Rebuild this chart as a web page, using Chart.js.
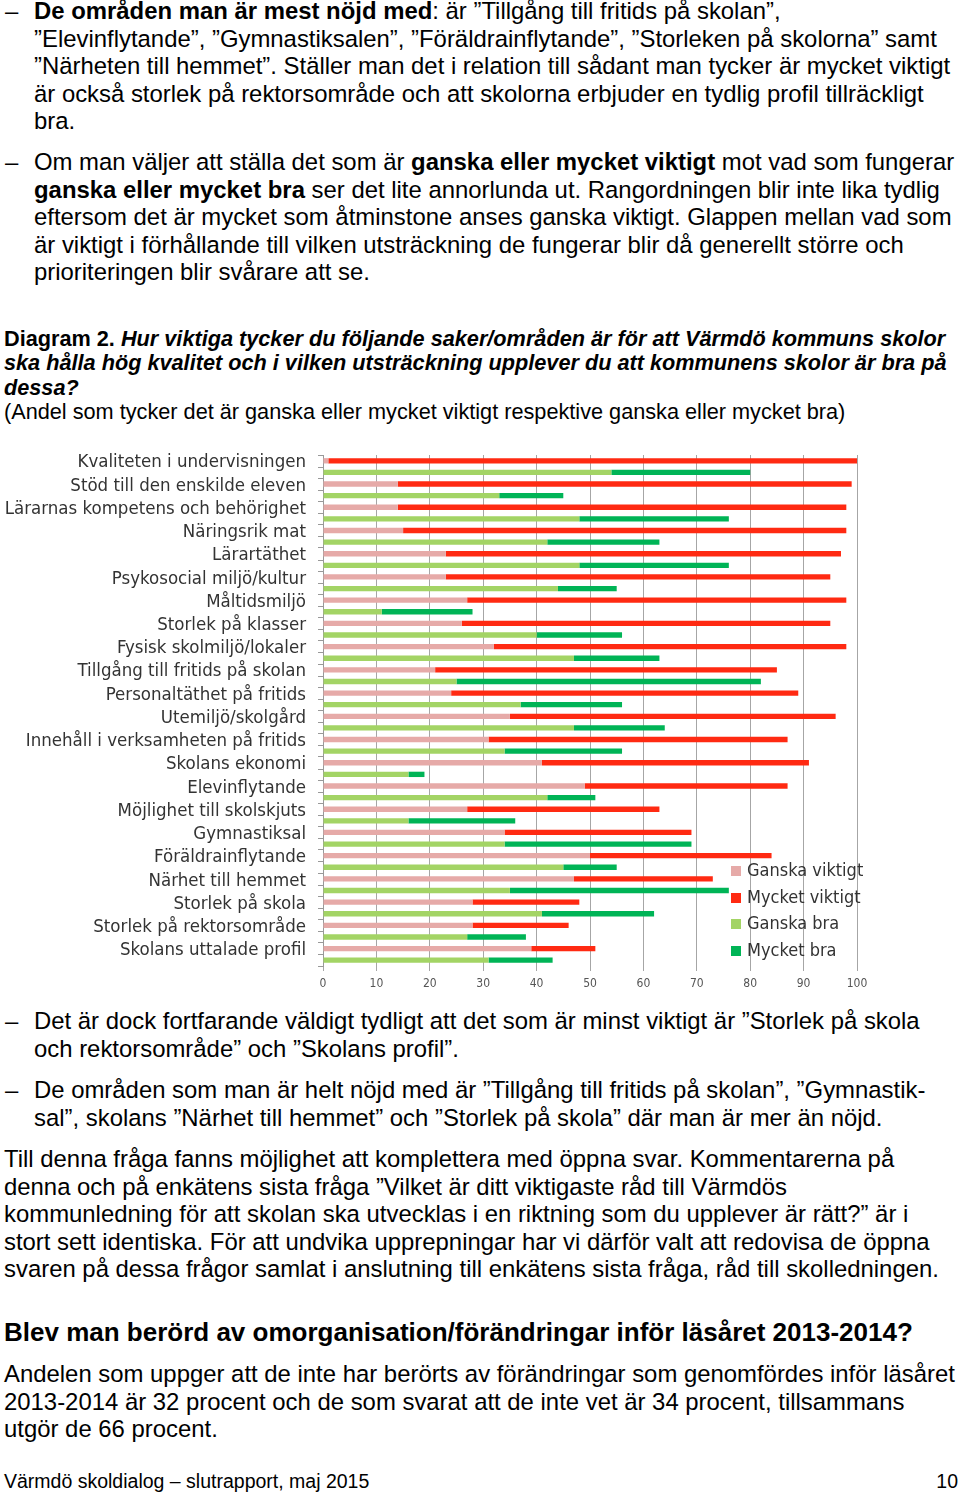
<!DOCTYPE html>
<html lang="sv">
<head>
<meta charset="utf-8">
<script src="https://cdn.jsdelivr.net/npm/chart.js@4/dist/chart.umd.min.js"></script>
<style>
  html, body { margin: 0; padding: 0; background: #fff; }
  body { width: 960px; height: 1494px; position: relative; overflow: hidden;
         font-family: "Liberation Sans", Arial, sans-serif; color: #000; }
  .blk { position: absolute; white-space: nowrap; font-size: 23.9px; line-height: 27.4px; }
  .txt { left: 34px; }
  .dash { left: 5px; }
  .para { left: 4px; }
  .cap { position: absolute; left: 4px; white-space: nowrap; font-size: 21.7px; line-height: 24.6px; }
  #chartBox { position: absolute; left: 0; top: 442px; width: 880px; height: 556px; }
  #legend { position: absolute; left: 731px; top: 857px; font-family: "DejaVu Sans Condensed", "DejaVu Sans", sans-serif;
            font-size: 18px; color: #333; }
  #legend div { height: 26.5px; line-height: 26.5px; white-space: nowrap; }
  #legend span.box { display: inline-block; width: 10px; height: 10px; margin-right: 6px; vertical-align: 0px; }
</style>
</head>
<body>

<div class="blk dash" style="top:-2.7px">–</div>
<div class="blk txt" style="top:-2.7px"><b>De områden man är mest nöjd med</b>: är ”Tillgång till fritids på skolan”,<br>”Elevinflytande”, ”Gymnastiksalen”, ”Föräldrainflytande”, ”Storleken på skolorna” samt<br>”Närheten till hemmet”. Ställer man det i relation till sådant man tycker är mycket viktigt<br>är också storlek på rektorsområde och att skolorna erbjuder en tydlig profil tillräckligt<br>bra.</div>

<div class="blk dash" style="top:148.3px">–</div>
<div class="blk txt" style="top:148.3px">Om man väljer att ställa det som är <b>ganska eller mycket viktigt</b> mot vad som fungerar<br><b>ganska eller mycket bra</b> ser det lite annorlunda ut. Rangordningen blir inte lika tydlig<br>eftersom det är mycket som åtminstone anses ganska viktigt. Glappen mellan vad som<br>är viktigt i förhållande till vilken utsträckning de fungerar blir då generellt större och<br>prioriteringen blir svårare att se.</div>

<div class="cap" style="top:326.7px"><b>Diagram 2. <i>Hur viktiga tycker du följande saker/områden är för att Värmdö kommuns skolor<br>ska hålla hög kvalitet och i vilken utsträckning upplever du att kommunens skolor är bra på<br>dessa?</i></b><br>(Andel som tycker det är ganska eller mycket viktigt respektive ganska eller mycket bra)</div>

<div id="chartBox"><canvas id="chart"></canvas></div>
<div id="legend"></div>

<div class="blk dash" style="top:1007.3px">–</div>
<div class="blk txt" style="top:1007.3px">Det är dock fortfarande väldigt tydligt att det som är minst viktigt är ”Storlek på skola<br>och rektorsområde” och ”Skolans profil”.</div>

<div class="blk dash" style="top:1076.3px">–</div>
<div class="blk txt" style="top:1076.3px">De områden som man är helt nöjd med är ”Tillgång till fritids på skolan”, ”Gymnastik-<br>sal”, skolans ”Närhet till hemmet” och ”Storlek på skola” där man är mer än nöjd.</div>

<div class="blk para" style="top:1145.3px">Till denna fråga fanns möjlighet att komplettera med öppna svar. Kommentarerna på<br>denna och på enkätens sista fråga ”Vilket är ditt viktigaste råd till Värmdös<br>kommunledning för att skolan ska utvecklas i en riktning som du upplever är rätt?” är i<br>stort sett identiska. För att undvika upprepningar har vi därför valt att redovisa de öppna<br>svaren på dessa frågor samlat i anslutning till enkätens sista fråga, råd till skolledningen.</div>

<div class="blk para" style="top:1316px; font-size:26px; line-height:32px; font-weight:bold">Blev man berörd av omorganisation/förändringar inför läsåret 2013-2014?</div>

<div class="blk para" style="top:1360.3px">Andelen som uppger att de inte har berörts av förändringar som genomfördes inför läsåret<br>2013-2014 är 32 procent och de som svarat att de inte vet är 34 procent, tillsammans<br>utgör de 66 procent.</div>

<div class="blk para" style="top:1468px; font-size:19.5px; line-height:26px">Värmdö skoldialog – slutrapport, maj 2015</div>
<div class="blk" style="top:1468px; right:2px; font-size:19.5px; line-height:26px">10</div>

<script>
// Categories (top to bottom)
const categories = [
    "Kvaliteten i undervisningen",
    "Stöd till den enskilde eleven",
    "Lärarnas kompetens och behörighet",
    "Näringsrik mat",
    "Lärartäthet",
    "Psykosocial miljö/kultur",
    "Måltidsmiljö",
    "Storlek på klasser",
    "Fysisk skolmiljö/lokaler",
    "Tillgång till fritids på skolan",
    "Personaltäthet på fritids",
    "Utemiljö/skolgård",
    "Innehåll i verksamheten på fritids",
    "Skolans ekonomi",
    "Elevinflytande",
    "Möjlighet till skolskjuts",
    "Gymnastiksal",
    "Föräldrainflytande",
    "Närhet till hemmet",
    "Storlek på skola",
    "Storlek på rektorsområde",
    "Skolans uttalade profil"
];

// Percent values
const ganskaViktigt = [1, 14, 14, 15, 23, 23, 27, 26, 32, 21, 24, 35, 31, 41, 49, 27, 34, 50, 47, 28, 28, 39];
const mycketViktigt = [99, 85, 84, 83, 74, 72, 71, 69, 66, 64, 65, 61, 56, 50, 38, 36, 35, 34, 26, 20, 18, 12];
const ganskaBra     = [54, 33, 48, 42, 48, 44, 11, 40, 47, 25, 37, 47, 34, 16, 42, 16, 34, 45, 35, 41, 27, 31];
const mycketBra     = [26, 12, 28, 21, 28, 11, 17, 16, 16, 57, 19, 17, 22, 3, 9, 20, 35, 10, 41, 21, 11, 12];

// x axis ticks
const xTicks = [0, 10, 20, 30, 40, 50, 60, 70, 80, 90, 100];

const colors = {
    ganskaViktigt: '#e6aaa8',
    mycketViktigt: '#ff2a12',
    ganskaBra: '#a3d465',
    mycketBra: '#00b456'
};

const labelFont = { family: '"DejaVu Sans Condensed", "DejaVu Sans", sans-serif', size: 18.5 };

// small tick marks in the middle of each category too (the original has them every half row)
const midTicks = {
    id: 'midTicks',
    afterDraw(chart) {
        const y = chart.scales.y;
        const ctx = chart.ctx;
        ctx.save();
        ctx.strokeStyle = '#999';
        ctx.lineWidth = 1;
        categories.forEach((_, i) => {
            const py = Math.round(y.getPixelForValue(i)) + 0.5;
            ctx.beginPath();
            ctx.moveTo(y.right - 5, py);
            ctx.lineTo(y.right, py);
            ctx.stroke();
        });
        ctx.restore();
    }
};

const datasets = [
    { label: 'Ganska viktigt', data: ganskaViktigt, backgroundColor: colors.ganskaViktigt, stack: 'viktigt' },
    { label: 'Mycket viktigt', data: mycketViktigt, backgroundColor: colors.mycketViktigt, stack: 'viktigt' },
    { label: 'Ganska bra', data: ganskaBra, backgroundColor: colors.ganskaBra, stack: 'bra' },
    { label: 'Mycket bra', data: mycketBra, backgroundColor: colors.mycketBra, stack: 'bra' }
];
datasets.forEach(d => {
    d.barPercentage = 0.46;
    d.categoryPercentage = 1;
    d.borderWidth = 0;
});

const ctx = document.getElementById('chart').getContext('2d');
const chart = new Chart(ctx, {
    type: 'bar',
    data: { labels: categories, datasets: datasets },
    options: {
        indexAxis: 'y',
        responsive: true,
        maintainAspectRatio: false,
        animation: false,
        layout: { padding: { top: 13, right: 23, bottom: 6, left: 0 } },
        plugins: {
            legend: { display: false },
            tooltip: { enabled: false }
        },
        scales: {
            x: {
                stacked: true,
                min: 0,
                max: 100,
                afterBuildTicks: (scale) => { scale.ticks = xTicks.map(v => ({ value: v })); },
                afterFit: (scale) => { scale.height = 26; },
                grid: { color: '#a6a6a6', tickLength: 5, drawTicks: true },
                border: { display: false },
                ticks: { color: '#555', font: { family: '"DejaVu Sans Condensed", "DejaVu Sans", sans-serif', size: 12 }, padding: 6 }
            },
            y: {
                stacked: true,
                afterFit: (scale) => {
                    scale.width = 323;
                    // labels sit inside their rows, no extra room needed above/below
                    scale.paddingTop = 0;
                    scale.paddingBottom = 0;
                },
                grid: { offset: true, drawOnChartArea: false, tickLength: 5, color: '#999' },
                border: { display: true, color: '#999' },
                ticks: { color: '#333', font: labelFont, padding: 12, autoSkip: false, labelOffset: -4 }
            }
        }
    },
    plugins: [midTicks]
});

// legend in the lower right corner of the plot
const legend = document.getElementById('legend');
datasets.forEach(d => {
    const row = document.createElement('div');
    row.innerHTML = '<span class="box" style="background:' + d.backgroundColor + '"></span>' + d.label;
    legend.appendChild(row);
});
</script>
</body>
</html>
